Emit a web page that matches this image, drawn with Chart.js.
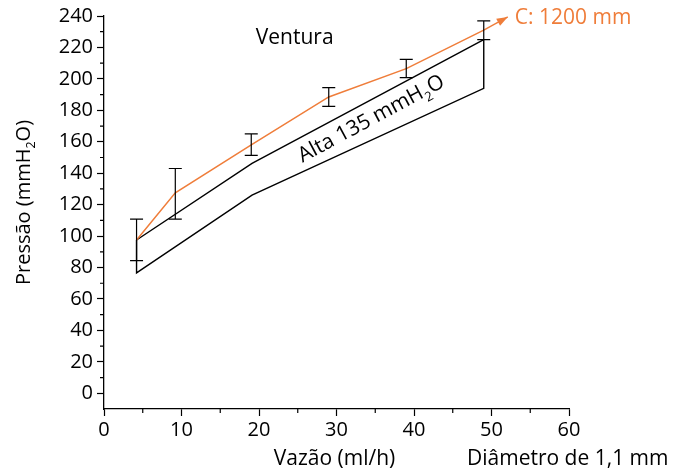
<!DOCTYPE html>
<html lang="pt-BR">
<head>
<meta charset="UTF-8">
<title>Ventura - Pressão x Vazão</title>
<script src="https://cdn.jsdelivr.net/npm/chart.js"></script>
<style>
  html, body { margin: 0; padding: 0; background: #fff; }
  #wrap { width: 673px; height: 473px; }
</style>
</head>
<body>
<div id="wrap"><canvas id="grafico"></canvas></div>
<script>
// dados
const vazao = [4.2, 9.2, 19, 29, 39, 49];
const pressaoC1200 = [97.5, 127.5, 158, 188.5, 206.5, 231];
const erroSup = [110.8, 143, 165, 194.5, 212.4, 236.9];
const erroInf = [84.4, 110.8, 151.3, 182.5, 200.8, 225];
// seta após o último ponto
const setaX = [49, 52.1];
const setaY = [231, 239.4];
// faixa "Alta 135 mmH2O"
const faixaSupX = [4.2, 19.1, 49];
const faixaSupY = [97.5, 146.2, 225];
const faixaInfX = [4.2, 4.2, 19.1, 49, 49];
const faixaInfY = [97.5, 76.6, 126, 194, 225];

const laranja = '#ef7d3a';
const fonte = '"Open Sans", "Noto Sans", sans-serif';

const pts = (xs, ys) => xs.map((x, i) => ({ x: x, y: ys[i] }));

// desenha texto com partes subscritas
function textoSub(ctx, partes, size, x, y, align) {
  let total = 0;
  partes.forEach(p => {
    ctx.font = (p[1] ? size * 0.62 : size) + 'px ' + fonte;
    total += ctx.measureText(p[0]).width;
  });
  let cx = align === 'center' ? x - total / 2 : x;
  ctx.textAlign = 'left';
  ctx.textBaseline = 'middle';
  partes.forEach(p => {
    ctx.font = (p[1] ? size * 0.62 : size) + 'px ' + fonte;
    ctx.fillText(p[0], cx, y + (p[1] ? size * 0.38 : 0));
    cx += ctx.measureText(p[0]).width;
  });
}

const extras = {
  id: 'extras',
  afterDatasetsDraw(chart) {
    const ctx = chart.ctx;
    const sx = chart.scales.x, sy = chart.scales.y;
    ctx.save();

    // barras de erro
    ctx.strokeStyle = '#000';
    ctx.lineWidth = 1.2;
    vazao.forEach((v, i) => {
      const px = sx.getPixelForValue(v);
      const y1 = sy.getPixelForValue(erroSup[i]);
      const y2 = sy.getPixelForValue(erroInf[i]);
      ctx.beginPath();
      ctx.moveTo(px, y1); ctx.lineTo(px, y2);
      ctx.moveTo(px - 6.5, y1); ctx.lineTo(px + 6.5, y1);
      ctx.moveTo(px - 6.5, y2); ctx.lineTo(px + 6.5, y2);
      ctx.stroke();
    });

    // ponta da seta
    const ax = sx.getPixelForValue(setaX[0]), ay = sy.getPixelForValue(setaY[0]);
    const bx = sx.getPixelForValue(setaX[1]), by = sy.getPixelForValue(setaY[1]);
    const ang = Math.atan2(by - ay, bx - ax);
    ctx.fillStyle = laranja;
    ctx.beginPath();
    ctx.moveTo(bx, by);
    ctx.lineTo(bx - 11 * Math.cos(ang) + 4 * Math.sin(ang), by - 11 * Math.sin(ang) - 4 * Math.cos(ang));
    ctx.lineTo(bx - 11 * Math.cos(ang) - 4 * Math.sin(ang), by - 11 * Math.sin(ang) + 4 * Math.cos(ang));
    ctx.closePath();
    ctx.fill();

    // ticks menores
    ctx.strokeStyle = '#000';
    ctx.lineWidth = 1.2;
    ctx.beginPath();
    for (let v = 10; v < 240; v += 20) {
      const py = sy.getPixelForValue(v);
      ctx.moveTo(sx.left, py); ctx.lineTo(sx.left - 4, py);
    }
    for (let v = 5; v < 60; v += 10) {
      const px = sx.getPixelForValue(v);
      ctx.moveTo(px, sy.bottom); ctx.lineTo(px, sy.bottom + 4);
    }
    ctx.stroke();

    // textos
    ctx.fillStyle = '#000';
    ctx.font = '21px ' + fonte;
    ctx.textAlign = 'center';
    ctx.textBaseline = 'middle';
    ctx.fillText('Ventura', sx.getPixelForValue(24.6), sy.getPixelForValue(226));

    ctx.fillStyle = laranja;
    ctx.textAlign = 'left';
    ctx.fillText('C: 1200 mm', sx.getPixelForValue(53), sy.getPixelForValue(238.5));

    ctx.fillStyle = '#000';
    ctx.save();
    ctx.translate(sx.getPixelForValue(34.5), sy.getPixelForValue(174.5));
    ctx.rotate(-28.3 * Math.PI / 180);
    textoSub(ctx, [['Alta 135 mmH', 0], ['2', 1], ['O', 0]], 21, 0, 0, 'center');
    ctx.restore();

    // títulos dos eixos
    ctx.save();
    ctx.translate(24, (sy.top + sy.bottom) / 2 - 10);
    ctx.rotate(-Math.PI / 2);
    textoSub(ctx, [['Pressão (mmH', 0], ['2', 1], ['O)', 0]], 20, 0, 0, 'center');
    ctx.restore();

    ctx.font = '21px ' + fonte;
    ctx.textAlign = 'center';
    ctx.textBaseline = 'middle';
    ctx.fillText('Vazão (ml/h)', (sx.left + sx.right) / 2 - 2, 459);
    ctx.textAlign = 'left';
    ctx.fillText('Diâmetro de 1,1 mm', 467, 459);

    ctx.restore();
  }
};

const ctx = document.getElementById('grafico').getContext('2d');
new Chart(ctx, {
  type: 'scatter',
  data: {
    datasets: [
      { data: pts(vazao, pressaoC1200), showLine: true, borderColor: laranja, borderWidth: 1.5, pointRadius: 0 },
      { data: pts(setaX, setaY), showLine: true, borderColor: laranja, borderWidth: 1.5, pointRadius: 0 },
      { data: pts(faixaSupX, faixaSupY), showLine: true, borderColor: '#000', borderWidth: 1.4, pointRadius: 0 },
      { data: pts(faixaInfX, faixaInfY), showLine: true, borderColor: '#000', borderWidth: 1.4, pointRadius: 0 }
    ]
  },
  options: {
    responsive: true,
    maintainAspectRatio: false,
    animation: false,
    layout: { padding: { left: 0, right: 104, top: 14, bottom: 0 } },
    plugins: { legend: { display: false }, tooltip: { enabled: false } },
    scales: {
      x: {
        type: 'linear', min: 0, max: 60,
        afterFit: s => { s.height = 64; },
        border: { color: '#000', width: 1.3 },
        grid: { drawOnChartArea: false, tickLength: 7, tickColor: '#000', tickWidth: 1.2 },
        ticks: { stepSize: 10, autoSkip: false, maxRotation: 0, padding: 2, color: '#000', font: { family: fonte, size: 20 } }
      },
      y: {
        min: -10, max: 240,
        afterFit: s => { s.width = 104; },
        afterBuildTicks: s => { s.ticks = []; for (let v = 0; v <= 240; v += 20) s.ticks.push({ value: v }); },
        border: { color: '#000', width: 1.3 },
        grid: { drawOnChartArea: false, tickLength: 7, tickColor: '#000', tickWidth: 1.2 },
        ticks: { autoSkip: false, padding: 4, color: '#000', font: { family: fonte, size: 20 } }
      }
    }
  },
  plugins: [extras]
});
</script>
</body>
</html>
